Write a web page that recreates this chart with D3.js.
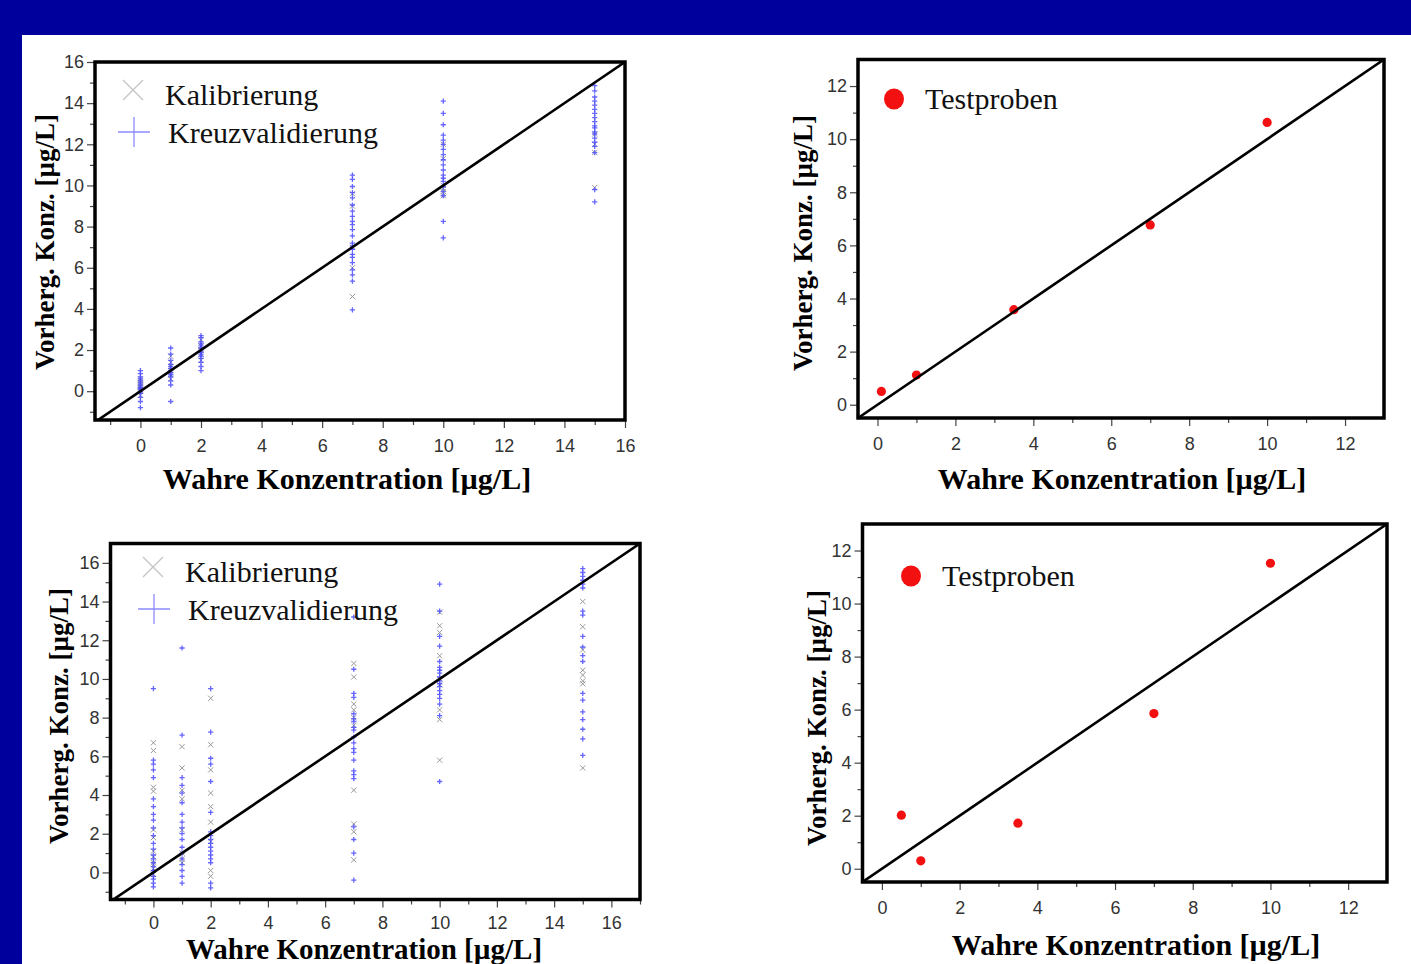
<!DOCTYPE html>
<html>
<head>
<meta charset="utf-8">
<script src="https://cdn.jsdelivr.net/npm/d3@7"></script>
<style>
  html, body { margin: 0; padding: 0; background: #00009c; }
  svg { display: block; }
  .tick text { font-family: "Liberation Sans", Arial, sans-serif; font-size: 18px; fill: #333; }
  .tick line { stroke: #444; }
  .domain { display: none; }
</style>
</head>
<body>
<svg id="chart" width="1411" height="964"></svg>
<script>
// ---------- DATA ----------
const trueLevels = [0, 1, 2, 7, 10, 15];

// Panel 1 (top left): predicted values per true level
const kal1 = [
  [-0.2, 0.0, 0.1, 0.2, 0.3, 0.4, 0.5, 0.6],
  [0.6, 0.8, 1.0, 1.2, 1.4, 1.7],
  [1.5, 1.8, 2.0, 2.2, 2.5],
  [4.6, 6.0, 7.0, 9.0, 9.6],
  [9.5, 9.7, 9.85, 10.0, 11.3, 12.0],
  [9.9, 11.6, 12.0, 12.5]
];
const kreuz1 = [
  [-0.8, -0.5, -0.3, -0.1, 0.0, 0.1, 0.15, 0.2, 0.3, 0.4, 0.5, 0.6, 0.7, 0.85, 1.0],
  [-0.5, 0.3, 0.5, 0.7, 0.8, 0.9, 1.0, 1.1, 1.2, 1.3, 1.5, 1.8, 2.1],
  [1.0, 1.2, 1.4, 1.6, 1.7, 1.8, 1.9, 2.0, 2.1, 2.2, 2.3, 2.4, 2.6, 2.7],
  [3.95, 5.35, 5.65, 5.9, 6.25, 6.5, 6.65, 6.9, 7.05, 7.2, 7.55, 7.85, 8.1, 8.25, 8.5, 8.75, 9.05, 9.4, 9.65, 9.95, 10.3, 10.5],
  [7.45, 8.25, 9.5, 9.7, 9.95, 10.2, 10.35, 10.5, 10.75, 11.0, 11.25, 11.5, 11.75, 12.0, 12.2, 12.45, 12.95, 13.5, 14.1],
  [9.2, 9.8, 11.6, 11.9, 12.1, 12.3, 12.5, 12.6, 12.8, 12.9, 13.1, 13.3, 13.5, 13.7, 13.9, 14.1, 14.3, 14.6, 14.85]
];

// Panel 3 (bottom left)
const kal3 = [
  [6.7, 6.3, 4.4, 4.2, 2.2, 1.8, 1.1, 0.8, 0.5, 0.4, 0.2, -0.1],
  [6.5, 5.4, 4.25, 3.8, 2.2, 1.0, 0.7, 0.5],
  [9.0, 6.6, 5.3, 4.1, 3.4, 2.6, 1.6, 0.1, -0.2],
  [10.8, 10.1, 8.7, 8.4, 8.0, 7.6, 4.25, 2.5, 2.1, 0.65],
  [13.45, 12.75, 12.4, 11.2, 10.0, 9.7, 8.4, 7.9, 5.8],
  [14.0, 12.7, 11.5, 10.45, 10.2, 9.9, 9.75, 5.4]
];
const kreuz3 = [
  [9.5, 5.8, 5.6, 5.3, 4.9, 3.8, 3.4, 3.0, 2.7, 2.3, 1.9, 1.5, 1.2, 0.9, 0.7, 0.5, 0.3, 0.1, 0.0, -0.2, -0.35, -0.55, -0.75],
  [11.6, 7.1, 4.9, 4.5, 4.1, 3.6, 3.0, 2.6, 2.3, 2.0, 1.7, 1.3, 1.0, 0.7, 0.4, 0.1, -0.2, -0.55],
  [9.5, 7.25, 5.9, 5.6, 4.7, 3.1, 2.1, 1.9, 1.7, 1.5, 1.3, 1.1, 0.9, 0.7, 0.5, -0.55, -0.8],
  [13.2, 10.5, 9.25, 9.05, 8.2, 7.95, 7.8, 7.5, 7.35, 7.0, 6.7, 6.4, 6.2, 5.8, 5.25, 5.05, 4.85, 2.35, 1.7, 1.0, -0.4],
  [14.9, 13.5, 12.2, 11.7, 10.9, 10.6, 10.45, 10.3, 10.1, 9.9, 9.75, 9.6, 9.4, 9.2, 9.0, 8.7, 8.1, 4.7],
  [15.7, 15.5, 15.3, 15.1, 14.9, 14.7, 13.5, 13.3, 12.2, 11.65, 11.2, 10.9, 9.25, 8.9, 8.3, 7.9, 7.4, 6.9, 6.05]
];

// Panels 2 and 4: test samples
const test2True = [0.1, 1, 3.5, 7, 10];
const test2Pred = [0.5, 1.12, 3.58, 6.77, 10.63];
const test4True = [0.5, 1, 3.5, 7, 10];
const test4Pred = [2.02, 0.3, 1.72, 5.85, 11.52];

// Tick values
const ticks16 = [0, 2, 4, 6, 8, 10, 12, 14, 16];
const minor16 = [-1, 1, 3, 5, 7, 9, 11, 13, 15];
const minor17 = [-1, 1, 3, 5, 7, 9, 11, 13, 15, 17];
const ticks12 = [0, 2, 4, 6, 8, 10, 12];
const minor12 = [1, 3, 5, 7, 9, 11];

const xTitle = "Wahre Konzentration [µg/L]";
const yTitle = "Vorherg.  Konz. [µg/L]";
const legendKal = "Kalibrierung";
const legendKreuz = "Kreuzvalidierung";
const legendTest = "Testproben";

// ---------- DRAW ----------
const svg = d3.select("#chart");
svg.append("rect").attr("x", 0).attr("y", 0).attr("width", 1411).attr("height", 964).attr("fill", "#00009c");
svg.append("rect").attr("x", 22).attr("y", 35).attr("width", 1389).attr("height", 929).attr("fill", "#ffffff");

const serif = "'Liberation Serif', 'Times New Roman', serif";

function panel(cfg, idx) {
  const x = d3.scaleLinear().domain(cfg.xd).range([cfg.box[0], cfg.box[2]]);
  const y = d3.scaleLinear().domain(cfg.yd).range([cfg.box[3], cfg.box[1]]);
  const g = svg.append("g");

  // axes
  g.append("g").attr("transform", `translate(0,${cfg.box[3]})`)
    .call(d3.axisBottom(x).tickValues(cfg.xt).tickSize(8).tickPadding(cfg.xpad).tickFormat(d3.format("d")));
  g.append("g").attr("transform", `translate(0,${cfg.box[3]})`)
    .call(d3.axisBottom(x).tickValues(cfg.xm).tickSize(5).tickFormat(""));
  g.append("g").attr("transform", `translate(${cfg.box[0]},0)`)
    .call(d3.axisLeft(y).tickValues(cfg.yt).tickSize(8).tickPadding(3).tickFormat(d3.format("d")));
  g.append("g").attr("transform", `translate(${cfg.box[0]},0)`)
    .call(d3.axisLeft(y).tickValues(cfg.ym).tickSize(5).tickFormat(""));
  g.selectAll(".tick line").attr("stroke", "#444").attr("stroke-width", 1.2);

  // clip
  const clipId = "clip" + idx;
  svg.append("clipPath").attr("id", clipId).append("rect")
    .attr("x", cfg.box[0]).attr("y", cfg.box[1])
    .attr("width", cfg.box[2] - cfg.box[0]).attr("height", cfg.box[3] - cfg.box[1]);
  const inner = g.append("g").attr("clip-path", `url(#${clipId})`);

  // scatter
  if (cfg.kal) {
    const s = 2.6;
    cfg.kal.forEach((vals, i) => {
      vals.forEach(v => {
        const px = x(trueLevels[i]), py = y(v);
        inner.append("path")
          .attr("d", `M${px - s},${py - s}L${px + s},${py + s}M${px - s},${py + s}L${px + s},${py - s}`)
          .attr("stroke", "#9a9a9a").attr("stroke-width", 1).attr("fill", "none");
      });
    });
    cfg.kreuz.forEach((vals, i) => {
      vals.forEach(v => {
        const px = x(trueLevels[i]), py = y(v);
        inner.append("path")
          .attr("d", `M${px - s},${py}L${px + s},${py}M${px},${py - s}L${px},${py + s}`)
          .attr("stroke", "#4a4aff").attr("stroke-width", 1.3).attr("fill", "none").attr("opacity", 0.85);
      });
    });
  }
  if (cfg.tx) {
    inner.selectAll("circle.pt").data(cfg.tx).enter().append("circle")
      .attr("class", "pt")
      .attr("cx", (d) => x(d)).attr("cy", (d, i) => y(cfg.ty[i]))
      .attr("r", 4.6).attr("fill", "#f21010");
  }

  // diagonal
  const lo = Math.min(cfg.xd[0], cfg.yd[0]) - 1, hi = Math.max(cfg.xd[1], cfg.yd[1]) + 1;
  inner.append("line")
    .attr("x1", x(lo)).attr("y1", y(lo)).attr("x2", x(hi)).attr("y2", y(hi))
    .attr("stroke", "#000").attr("stroke-width", 2.6);

  // box
  g.append("rect").attr("x", cfg.box[0]).attr("y", cfg.box[1])
    .attr("width", cfg.box[2] - cfg.box[0]).attr("height", cfg.box[3] - cfg.box[1])
    .attr("fill", "none").attr("stroke", "#000").attr("stroke-width", 3.5);

  // titles
  g.append("text").attr("x", cfg.xtitle[0]).attr("y", cfg.xtitle[1])
    .attr("text-anchor", "middle").attr("font-family", serif).attr("font-weight", "bold")
    .attr("font-size", cfg.xfs).attr("fill", "#000").text(xTitle);
  g.append("text").attr("transform", `translate(${cfg.ytitle[0]},${cfg.ytitle[1]}) rotate(-90)`)
    .attr("text-anchor", "middle").attr("font-family", serif).attr("font-weight", "bold")
    .attr("font-size", 27).attr("fill", "#000").text(yTitle);

  // legend
  if (cfg.kal) {
    const L = cfg.leg;
    g.append("path")
      .attr("d", `M${L[0] - 10},${L[1] - 10}L${L[0] + 10},${L[1] + 10}M${L[0] - 10},${L[1] + 10}L${L[0] + 10},${L[1] - 10}`)
      .attr("stroke", "#c4c4c4").attr("stroke-width", 1.3).attr("fill", "none");
    g.append("path")
      .attr("d", `M${L[0] - 15},${L[1] + 42}L${L[0] + 17},${L[1] + 42}M${L[0] + 1},${L[1] + 27}L${L[0] + 1},${L[1] + 57}`)
      .attr("stroke", "#8c8cff").attr("stroke-width", 1.3).attr("fill", "none");
    g.append("text").attr("x", L[0] + 32).attr("y", L[1] + 15)
      .attr("font-family", serif).attr("font-size", 30).attr("fill", "#111").text(legendKal);
    g.append("text").attr("x", L[0] + 35).attr("y", L[1] + 53)
      .attr("font-family", serif).attr("font-size", 30).attr("fill", "#111").text(legendKreuz);
  } else {
    const L = cfg.leg;
    g.append("ellipse").attr("cx", L[0]).attr("cy", L[1]).attr("rx", 10).attr("ry", 10.5).attr("fill", "#f21010");
    g.append("text").attr("x", L[0] + 31).attr("y", L[1] + 10)
      .attr("font-family", serif).attr("font-size", 30).attr("fill", "#111").text(legendTest);
  }
}

panel({ box: [95, 62, 625, 420], xd: [-1.5, 16], yd: [-1.4, 16], xt: ticks16, xm: minor16, yt: ticks16, ym: minor16,
        xpad: 11, xfs: 30,
        kal: kal1, kreuz: kreuz1, xtitle: [347, 489], ytitle: [54, 242], leg: [133, 90] }, 1);
panel({ box: [858, 59.5, 1384, 418], xd: [-0.5, 13], yd: [-0.5, 13], xt: ticks12, xm: minor12, yt: ticks12, ym: minor12,
        xpad: 11, xfs: 30,
        tx: test2True, ty: test2Pred, xtitle: [1122, 489], ytitle: [812, 243], leg: [894, 99] }, 2);
panel({ box: [110.5, 543.5, 640, 899.5], xd: [-1.5, 17], yd: [-1.4, 17], xt: ticks16, xm: minor17, yt: ticks16, ym: minor16,
        xpad: 9, xfs: 29,
        kal: kal3, kreuz: kreuz3, xtitle: [364, 959], ytitle: [68, 716], leg: [153, 567] }, 3);
panel({ box: [862.5, 524, 1387, 882], xd: [-0.5, 13], yd: [-0.5, 13], xt: ticks12, xm: minor12, yt: ticks12, ym: minor12,
        xpad: 11, xfs: 30,
        tx: test4True, ty: test4Pred, xtitle: [1136, 955], ytitle: [826, 718], leg: [911, 576] }, 4);
</script>
</body>
</html>
